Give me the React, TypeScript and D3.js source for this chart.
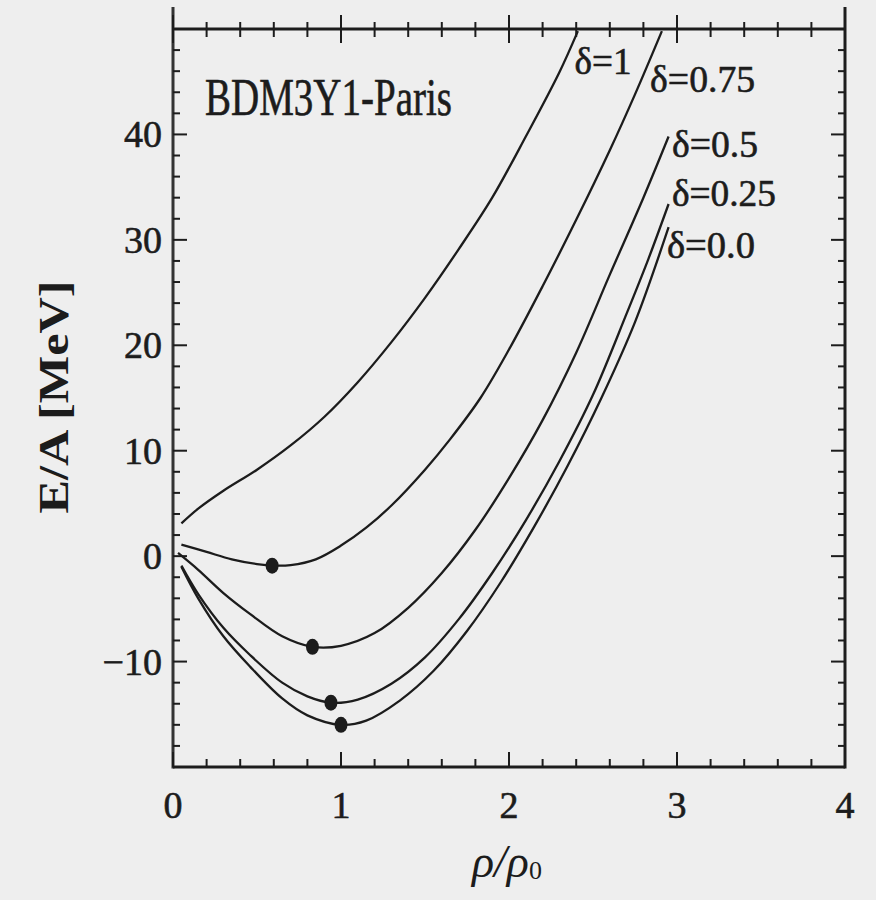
import React from "react";
import * as d3 from "d3";

// ---- data ----
const curveD1: [number, number][] = [
  [0.05, 3.1], [0.15, 4.5], [0.3, 6.2], [0.5, 8.2], [0.7, 10.5], [0.9, 13.2],
  [1.1, 16.5], [1.3, 20.3], [1.5, 24.5], [1.7, 29.1], [1.9, 34.0], [2.1, 39.8],
  [2.3, 45.9], [2.41, 49.8],
];
const curveD075: [number, number][] = [
  [0.05, 1.1], [0.2, 0.4], [0.35, -0.3], [0.5, -0.75], [0.6, -0.9], [0.7, -0.85],
  [0.85, -0.3], [1.0, 1.0], [1.15, 2.7], [1.3, 4.8], [1.5, 8.2], [1.65, 11.1],
  [1.83, 15.0], [2.0, 19.6], [2.2, 25.6], [2.4, 31.9], [2.6, 38.5], [2.75, 43.8],
  [2.91, 49.8],
];
const curveD05: [number, number][] = [
  [0.03, 0.3], [0.15, -1.3], [0.3, -3.5], [0.46, -5.5], [0.65, -7.6], [0.83, -8.6],
  [1.0, -8.5], [1.2, -7.3], [1.4, -4.9], [1.6, -1.6], [1.8, 2.5], [2.0, 7.4],
  [2.2, 12.9], [2.4, 19.3], [2.6, 26.7], [2.8, 34.0], [2.95, 39.8],
];
const curveD025: [number, number][] = [
  [0.05, -0.9], [0.15, -3.6], [0.3, -6.8], [0.46, -9.4], [0.65, -12.0], [0.8, -13.3],
  [0.94, -13.9], [1.1, -13.6], [1.3, -12.1], [1.5, -9.6], [1.7, -6.0], [1.9, -1.6],
  [2.1, 3.4], [2.3, 9.0], [2.5, 15.3], [2.7, 23.0], [2.83, 28.2], [2.95, 33.4],
];
const curveD0: [number, number][] = [
  [0.05, -1.0], [0.15, -4.0], [0.3, -7.6], [0.46, -10.5], [0.65, -13.5], [0.8, -15.1],
  [1.0, -16.0], [1.15, -15.6], [1.35, -13.7], [1.55, -10.9], [1.75, -7.1], [1.95, -2.5],
  [2.15, 2.8], [2.35, 8.6], [2.55, 15.0], [2.75, 22.2], [2.95, 31.2],
];
const seriesCurves = [curveD1, curveD075, curveD05, curveD025, curveD0];
const seriesLabels = ["δ=1", "δ=0.75", "δ=0.5", "δ=0.25", "δ=0.0"];
// label anchor (data coords)
const labelRho = [2.39, 2.84, 2.97, 2.97, 2.94];
const labelE = [45.7, 44.0, 37.9, 33.2, 28.3];
const labelWidths = [57, 105, 86, 104, 88];

// saturation points (minima)
const minRho = [0.59, 0.83, 0.94, 1.0];
const minE = [-0.9, -8.6, -13.9, -16.0];

const xTickLabels = [0, 1, 2, 3, 4];
const yTickLabels = [-10, 0, 10, 20, 30, 40];

const title = "BDM3Y1-Paris";

export default function App() {
  const W = 876, H = 900;
  const x0 = 173, x1 = 845, yTop = 29, yBot = 767;
  const x = d3.scaleLinear().domain([0, 4]).range([x0, x1]);
  const y = d3.scaleLinear().domain([-20, 50]).range([yBot, yTop]);
  const line = d3
    .line<[number, number]>()
    .x((d) => x(d[0]))
    .y((d) => y(d[1]))
    .curve(d3.curveCatmullRom.alpha(0.5));

  const xMinor = d3.range(0, 4.0001, 0.2);
  const yMinor = d3.range(-20, 50.0001, 2);
  const font = "'Liberation Serif', 'DejaVu Serif', serif";
  const ink = "#1c1c1c";
  const isMajorX = (v: number) => Math.abs(v - Math.round(v)) < 1e-6;
  const isMajorY = (v: number) => Math.abs(v / 10 - Math.round(v / 10)) < 1e-6;
  const textStroke = { stroke: ink, strokeWidth: 0.6 };

  return (
    <svg
      width={W}
      height={H}
      style={{ position: "absolute", left: 0, top: 0, background: "#eeeeee" }}
      fontFamily={font}
    >
      <rect x={0} y={0} width={W} height={H} fill="#eeeeee" />
      <defs>
        <clipPath id="plotClip">
          <rect x={x0} y={yTop} width={x1 - x0} height={yBot - yTop} />
        </clipPath>
      </defs>

      {/* frame */}
      <line x1={x0} x2={x1} y1={yTop} y2={yTop} stroke={ink} strokeWidth={3} />
      <line x1={x0} x2={x1} y1={yBot} y2={yBot} stroke={ink} strokeWidth={3} />
      <line x1={x0} x2={x0} y1={7} y2={yBot + 1.5} stroke="#333" strokeWidth={3} />
      <line x1={x1} x2={x1} y1={7} y2={yBot + 1.5} stroke={ink} strokeWidth={3} />

      {/* x ticks */}
      {xMinor.map((v, i) => {
        const major = isMajorX(v);
        const px = x(v);
        return (
          <g key={"xt" + i}>
            <line x1={px} x2={px} y1={yBot} y2={yBot - (major ? 15 : 8)} stroke={ink} strokeWidth={2} />
            <line x1={px} x2={px} y1={yTop - (major ? 14 : 7)} y2={yTop + (major ? 14 : 8)} stroke={ink} strokeWidth={2} />
          </g>
        );
      })}
      {/* y ticks */}
      {yMinor.map((v, i) => {
        const major = isMajorY(v);
        const py = y(v);
        return (
          <g key={"yt" + i}>
            <line x1={x0} x2={x0 + (major ? 14 : 7)} y1={py} y2={py} stroke={ink} strokeWidth={2} />
            <line x1={x1} x2={x1 - (major ? 14 : 7)} y1={py} y2={py} stroke={ink} strokeWidth={2} />
          </g>
        );
      })}

      {/* tick labels */}
      {xTickLabels.map((v) => (
        <text key={"xl" + v} x={x(v)} y={818} textAnchor="middle" fontSize={38} fill={ink} {...textStroke}>
          {v}
        </text>
      ))}
      {yTickLabels.map((v) => (
        <text key={"yl" + v} x={162} y={y(v) + 13} textAnchor="end" fontSize={38} fill={ink} {...textStroke}>
          {v < 0 ? "−" + Math.abs(v) : v}
        </text>
      ))}

      {/* axis titles */}
      <text x={472} y={877} fontSize={46} fill={ink} fontStyle="italic">
        ρ/ρ
        <tspan fontSize={26} fontStyle="normal" dy={2}>0</tspan>
      </text>
      <text
        transform="translate(68,397) rotate(-90)"
        textAnchor="middle"
        fontSize={42}
        fontWeight="bold"
        fill={ink}
        textLength={233}
        lengthAdjust="spacingAndGlyphs"
      >
        E/A [MeV]
      </text>

      {/* title */}
      <text x={205} y={115} fontSize={52} fill={ink} textLength={247} lengthAdjust="spacingAndGlyphs" {...textStroke}>
        {title}
      </text>

      {/* curves */}
      <g clipPath="url(#plotClip)">
        {seriesCurves.map((c, i) => (
          <path key={"c" + i} d={line(c) || ""} fill="none" stroke={ink} strokeWidth={2.3} />
        ))}
      </g>

      {/* minima dots */}
      {minRho.map((r, i) => (
        <ellipse key={"m" + i} cx={x(r)} cy={y(minE[i])} rx={6.5} ry={8} fill={ink} />
      ))}

      {/* curve labels */}
      {seriesLabels.map((s, i) => (
        <text
          key={"lab" + i}
          x={x(labelRho[i])}
          y={y(labelE[i])}
          fontSize={38}
          fill={ink}
          textLength={labelWidths[i]}
          lengthAdjust="spacingAndGlyphs"
          {...textStroke}
        >
          {s}
        </text>
      ))}
    </svg>
  );
}
